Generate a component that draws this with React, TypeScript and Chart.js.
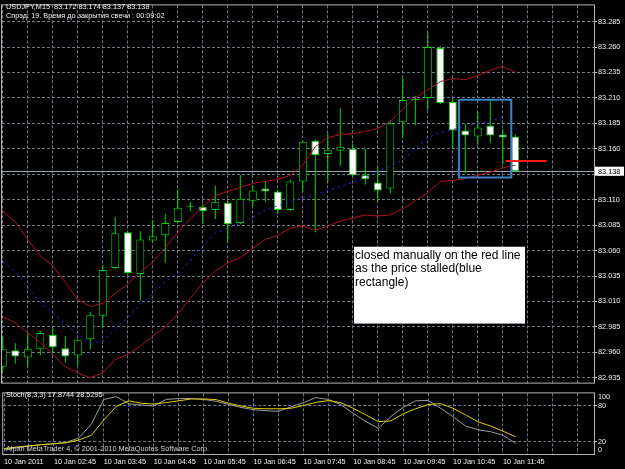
import React, { useEffect, useRef } from "react";
import { Chart, registerables } from "chart.js";

Chart.register(...registerables);

// ---------------- data ----------------
const SYMBOL = "USDJPY,M15";
const INFO_LINE = "Спрэд: 19. Время до закрытия свечи : 00:09:02";
const STOCH_NAME = "Stoch(8,3,3)";
const COPYRIGHT = "Alpari MetaTrader 4, © 2001-2010 MetaQuotes Software Corp.";
const NOTE_LINES = ["closed manually on the red line", "as the price stalled(blue", "rectangle)"];

const timeLabels = [
  "10 Jan 2011", "10 Jan 02:45", "10 Jan 03:45", "10 Jan 04:45", "10 Jan 05:45", "10 Jan 06:45",
  "10 Jan 07:45", "10 Jan 08:45", "10 Jan 09:45", "10 Jan 10:45", "10 Jan 11:45",
];
const TIME_LABEL_EVERY = 4; // bars between time labels
const GRID_EVERY = 2; // bars between vertical grid lines
const VIEW_BARS = [-0.064, 47.296]; // visible bar range (chart shift on the right)

const opens = [
  82.946, 82.962, 82.955, 82.963, 82.977, 82.964, 82.957, 82.973, 82.996, 83.043,
  83.078, 83.037, 83.070, 83.075, 83.088, 83.103, 83.103, 83.100, 83.107, 83.087,
  83.109, 83.121, 83.118, 83.100, 83.128, 83.168, 83.155, 83.158, 83.160, 83.134,
  83.127, 83.121, 83.186, 83.208, 83.210, 83.259, 83.206, 83.178, 83.172, 83.183,
  83.174, 83.172,
];
const highs = [
  82.976, 82.969, 82.979, 82.981, 82.984, 82.976, 82.973, 83.000, 83.046, 83.093,
  83.079, 83.079, 83.090, 83.096, 83.120, 83.108, 83.106, 83.124, 83.109, 83.134,
  83.124, 83.128, 83.120, 83.130, 83.168, 83.169, 83.175, 83.200, 83.165, 83.160,
  83.142, 83.188, 83.230, 83.212, 83.274, 83.261, 83.210, 83.184, 83.196, 83.208,
  83.179, 83.174,
];
const lows = [
  82.942, 82.949, 82.946, 82.957, 82.959, 82.950, 82.947, 82.963, 82.985, 83.042,
  83.036, 83.011, 83.069, 83.048, 83.087, 83.099, 83.086, 83.091, 83.069, 83.086,
  83.104, 83.108, 83.096, 83.099, 83.118, 83.078, 83.127, 83.143, 83.133, 83.125,
  83.108, 83.116, 83.171, 83.183, 83.198, 83.204, 83.160, 83.136, 83.164, 83.166,
  83.145, 83.137,
];
const closes = [
  82.963, 82.956, 82.963, 82.979, 82.965, 82.956, 82.972, 82.997, 83.041, 83.077,
  83.038, 83.071, 83.074, 83.087, 83.102, 83.104, 83.099, 83.108, 83.086, 83.111,
  83.119, 83.118, 83.100, 83.128, 83.167, 83.154, 83.159, 83.162, 83.134, 83.130,
  83.119, 83.185, 83.208, 83.209, 83.260, 83.205, 83.178, 83.173, 83.181, 83.173,
  83.171, 83.138,
];

const bbUpper = [
  83.099, 83.088, 83.071, 83.055, 83.045, 83.029, 83.012, 83.005, 83.008, 83.018,
  83.027, 83.039, 83.049, 83.063, 83.078, 83.091, 83.103, 83.114, 83.118, 83.122,
  83.126, 83.128, 83.130, 83.134, 83.144, 83.162, 83.171, 83.174, 83.175, 83.177,
  83.180, 83.187, 83.199, 83.210, 83.218, 83.226, 83.229, 83.228, 83.232, 83.237,
  83.241, 83.235,
];
const bbMiddle = [
  83.049, 83.039, 83.024, 83.009, 82.999, 82.988, 82.978, 82.969, 82.971, 82.983,
  82.995, 83.007, 83.018, 83.029, 83.038, 83.050, 83.065, 83.077, 83.082, 83.087,
  83.093, 83.100, 83.104, 83.108, 83.112, 83.115, 83.119, 83.123, 83.127, 83.131,
  83.138, 83.143, 83.149, 83.160, 83.171, 83.176, 83.179, 83.182, 83.185, 83.187,
  83.191, null,
];
const bbLower = [
  82.995, 82.989, 82.979, 82.970, 82.958, 82.946, 82.940, 82.935, 82.940, 82.953,
  82.958, 82.966, 82.976, 82.985, 82.998, 83.013, 83.028, 83.040, 83.048, 83.053,
  83.062, 83.071, 83.075, 83.082, 83.084, 83.080, 83.084, 83.089, 83.092, 83.095,
  83.094, 83.095, 83.101, 83.109, 83.117, 83.128, 83.129, 83.131, 83.134, 83.137,
  83.141, 83.144,
];

const stochMain = [
  7.7, 10.3, 13.1, 15.4, 16.9, 19.2, 26.6, 49.2, 90.0, 94.6,
  83.0, 80.8, 79.2, 90.0, 91.5, 91.5, 90.0, 87.0, 81.7, 76.9,
  73.0, 71.5, 70.3, 77.7, 84.6, 93.0, 90.0, 81.5, 66.9, 53.8,
  42.3, 61.5, 76.9, 87.7, 88.5, 75.4, 61.5, 46.2, 40.0, 36.9,
  30.8, 17.8744,
];
const stochSignal = [
  8.8, 11.5, 13.4, 15.4, 16.9, 18.5, 23.1, 30.8, 56.0, 78.5,
  87.7, 83.8, 82.3, 84.9, 87.7, 90.8, 90.8, 89.7, 83.8, 79.2,
  75.4, 74.6, 74.6, 75.4, 80.0, 85.0, 88.2, 84.6, 75.4, 64.6,
  53.4, 54.6, 66.2, 74.6, 81.5, 83.1, 75.4, 64.6, 53.1, 46.2,
  37.7, 28.5295,
];

const priceTicks = [
  82.935, 82.96, 82.985, 83.01, 83.035, 83.06, 83.085, 83.11, 83.135, 83.16,
  83.185, 83.21, 83.235, 83.26, 83.285,
];
const priceRange = [82.9303, 83.3009];
const stochLevels = [20, 80];
const stochRange = [0, 100];

// drawn objects (in bar / price units)
const exitLine = { from: 40.23, to: 43.51, price: 83.148 };
const stallBox = { from: 36.5, to: 40.68, top: 83.2083, bottom: 83.1319 };
const noteBox = { from: 28.1, to: 41.78, top: 83.0638, bottom: 82.9883 };

// ---------------- styles ----------------
const FONT = '"Liberation Sans", Arial, sans-serif';
const SMALL = 7.3;
const LIME = "#00dc00";
const GRID = "#6d7a88";
const FRAME = "#b4b4b4";
const TEXT = "#f0f0f0";
const BAND = "#b01020";
const MID = "#2a2aff";

const idx = opens.map((_, i) => i);
const gridBars: number[] = [];
for (let b = 0; b <= VIEW_BARS[1]; b += GRID_EVERY) gridBars.push(b);

function mainConfig(): any {
  const wick = idx.map((i) => ({ x: i, y: [lows[i], highs[i]] }));
  const bull = idx.filter((i) => closes[i] >= opens[i]).map((i) => ({ x: i, y: [opens[i], closes[i]] }));
  const bear = idx.filter((i) => closes[i] < opens[i]).map((i) => ({ x: i, y: [closes[i], opens[i]] }));
  const line = (arr: (number | null)[]) =>
    arr.map((v, i) => (v == null ? null : { x: i, y: v })).filter((p) => p) as any[];
  const lineBase = { type: "line", pointRadius: 0, borderWidth: 1, tension: 0, fill: false };
  const bid = closes[closes.length - 1];
  const last = closes.length - 1;

  const plugin = {
    id: "mt4main",
    beforeDatasetsDraw(chart: any) {
      const { ctx, chartArea: a, scales } = chart;
      const by = Math.round(scales.y.getPixelForValue(bid)) + 0.5;
      ctx.save();
      ctx.strokeStyle = "#9aa4b0";
      ctx.lineWidth = 1;
      ctx.beginPath();
      ctx.moveTo(a.left, by);
      ctx.lineTo(a.right, by);
      ctx.stroke();
      ctx.restore();
    },
    afterDatasetsDraw(chart: any) {
      const { ctx, scales } = chart;
      const l = scales.x.getPixelForValue(noteBox.from);
      const r = scales.x.getPixelForValue(noteBox.to);
      const t = scales.y.getPixelForValue(noteBox.top);
      const b = scales.y.getPixelForValue(noteBox.bottom);
      ctx.save();
      ctx.fillStyle = "#ffffff";
      ctx.fillRect(l, t, r - l, b - t);
      ctx.fillStyle = "#000000";
      ctx.font = `12px ${FONT}`;
      ctx.textBaseline = "middle";
      ctx.textAlign = "left";
      NOTE_LINES.forEach((s, i) => ctx.fillText(s, l + 1, t + 8.5 + i * 13.8));
      ctx.restore();
    },
    afterDraw(chart: any) {
      const { ctx, chartArea: a, scales } = chart;
      ctx.save();
      ctx.strokeStyle = FRAME;
      ctx.lineWidth = 1;
      ctx.strokeRect(a.left - 0.5, a.top - 0.5, a.right - a.left + 1, a.bottom - a.top + 1);
      const by = scales.y.getPixelForValue(bid);
      ctx.fillStyle = "#ffffff";
      ctx.fillRect(a.right + 1, by - 4.5, 29, 9);
      ctx.fillStyle = "#000000";
      ctx.font = `${SMALL}px ${FONT}`;
      ctx.textBaseline = "middle";
      ctx.textAlign = "left";
      ctx.fillText(bid.toFixed(3), a.right + 4, by + 0.5);
      ctx.fillStyle = TEXT;
      const head = `${SYMBOL}  ${opens[last].toFixed(3)} ${highs[last].toFixed(3)} ${lows[last].toFixed(3)} ${closes[last].toFixed(3)}`;
      ctx.fillText(head, 6, 7);
      ctx.fillText(INFO_LINE, 6, 16);
      ctx.restore();
    },
  };

  return {
    type: "bar",
    data: {
      datasets: [
        { data: wick, backgroundColor: LIME, borderWidth: 0, barThickness: 1, grouped: false, inflateAmount: 0, order: 6 },
        { data: bull, backgroundColor: "#000000", borderColor: LIME, borderWidth: 1, borderSkipped: false, barThickness: 8, grouped: false, inflateAmount: 0, order: 5 },
        { data: bear, backgroundColor: "#ffffff", borderColor: LIME, borderWidth: 1, borderSkipped: false, barThickness: 8, grouped: false, inflateAmount: 0, order: 5 },
        { ...lineBase, data: line(bbUpper), borderColor: BAND, order: 3 },
        { ...lineBase, data: line(bbLower), borderColor: BAND, order: 3 },
        { ...lineBase, data: line(bbMiddle), borderColor: MID, borderDash: [2, 4], order: 3 },
        { ...lineBase, data: [{ x: exitLine.from, y: exitLine.price }, { x: exitLine.to, y: exitLine.price }], borderColor: "#ff1a1a", borderWidth: 2, order: 1 },
        {
          ...lineBase,
          data: [
            { x: stallBox.from, y: stallBox.top }, { x: stallBox.to, y: stallBox.top },
            { x: stallBox.to, y: stallBox.bottom }, { x: stallBox.from, y: stallBox.bottom },
            { x: stallBox.from, y: stallBox.top },
          ],
          borderColor: "#3c82c8", borderWidth: 2, order: 1,
        },
      ],
    },
    options: {
      animation: false,
      responsive: false,
      devicePixelRatio: 1,
      events: [],
      layout: { padding: { left: 2, top: 2, right: 0, bottom: 3 } },
      plugins: { legend: { display: false }, tooltip: { enabled: false } },
      scales: {
        x: {
          type: "linear", min: VIEW_BARS[0], max: VIEW_BARS[1], offset: false, bounds: "data",
          afterBuildTicks: (s: any) => { s.ticks = gridBars.map((v) => ({ value: v })); },
          afterFit: (s: any) => { s.height = 0; },
          ticks: { display: false },
          grid: { color: GRID, drawTicks: false, offset: false, lineWidth: 1 },
          border: { display: false, dash: [3, 2] },
        },
        y: {
          type: "linear", position: "right", min: priceRange[0], max: priceRange[1], bounds: "data",
          afterBuildTicks: (s: any) => { s.ticks = priceTicks.map((v) => ({ value: v })); },
          afterFit: (s: any) => { s.width = 31; },
          ticks: { color: TEXT, font: { family: FONT, size: SMALL }, padding: 1, callback: (v: any) => Number(v).toFixed(3) },
          grid: { color: GRID, drawTicks: true, tickLength: 3, tickColor: "#c8c8c8", tickBorderDash: [] },
          border: { display: false, dash: [3, 2] },
        },
      },
    },
    plugins: [plugin],
  };
}

function stochConfig(): any {
  const pts = (arr: number[]) => arr.map((v, i) => ({ x: i, y: v }));
  const lineBase = { type: "line", pointRadius: 0, borderWidth: 1, tension: 0, fill: false };
  const plugin = {
    id: "mt4stoch",
    afterDraw(chart: any) {
      const { ctx, chartArea: a, scales } = chart;
      ctx.save();
      ctx.strokeStyle = FRAME;
      ctx.lineWidth = 1;
      ctx.strokeRect(a.left - 0.5, a.top - 0.5, a.right - a.left + 1, a.bottom - a.top + 1);
      ctx.font = `${SMALL}px ${FONT}`;
      ctx.textBaseline = "middle";
      ctx.textAlign = "left";
      ctx.fillStyle = TEXT;
      ctx.fillText(String(stochRange[1]), a.right + 4, scales.y.getPixelForValue(stochRange[1]) + 4);
      ctx.fillText(String(stochRange[0]), a.right + 4, scales.y.getPixelForValue(stochRange[0]) - 4);
      const k = stochMain[stochMain.length - 1];
      const d = stochSignal[stochSignal.length - 1];
      ctx.fillText(`${STOCH_NAME} ${k.toFixed(4)} ${d.toFixed(4)}`, 6, 7);
      ctx.fillStyle = "#d0d0d0";
      ctx.fillText(COPYRIGHT, 6, 61);
      ctx.restore();
    },
  };
  return {
    type: "line",
    data: {
      datasets: [
        { ...lineBase, data: pts(stochMain), borderColor: "#9c9c9c", order: 2 },
        { ...lineBase, data: pts(stochSignal), borderColor: "#e0d000", order: 1 },
      ],
    },
    options: {
      animation: false,
      responsive: false,
      devicePixelRatio: 1,
      events: [],
      layout: { padding: { left: 2, top: 1, right: 0, bottom: 0 } },
      plugins: { legend: { display: false }, tooltip: { enabled: false } },
      scales: {
        x: {
          type: "linear", min: VIEW_BARS[0], max: VIEW_BARS[1], offset: false, bounds: "data",
          afterBuildTicks: (s: any) => { s.ticks = gridBars.map((v) => ({ value: v })); },
          afterFit: (s: any) => { s.height = 15; },
          ticks: {
            color: TEXT, font: { family: FONT, size: SMALL }, padding: 4, align: "start",
            autoSkip: false, maxRotation: 0, minRotation: 0,
            callback: (v: any) => {
              const n = Math.round(Number(v));
              return n % TIME_LABEL_EVERY === 0 && n / TIME_LABEL_EVERY < timeLabels.length ? timeLabels[n / TIME_LABEL_EVERY] : "";
            },
          },
          grid: { color: GRID, drawTicks: false, offset: false },
          border: { display: false, dash: [3, 2] },
        },
        y: {
          type: "linear", position: "right", min: stochRange[0], max: stochRange[1], bounds: "data",
          afterBuildTicks: (s: any) => { s.ticks = stochLevels.map((v) => ({ value: v })); },
          afterFit: (s: any) => { s.width = 31; },
          ticks: { color: TEXT, font: { family: FONT, size: SMALL }, padding: 1 },
          grid: { color: GRID, drawTicks: true, tickLength: 3, tickColor: "#c8c8c8", tickBorderDash: [] },
          border: { display: false, dash: [3, 2] },
        },
      },
    },
    plugins: [plugin],
  };
}

export default function App() {
  const mainRef = useRef<HTMLCanvasElement>(null);
  const stochRef = useRef<HTMLCanvasElement>(null);
  useEffect(() => {
    document.body.style.margin = "0";
    document.body.style.background = "#000";
    const main = new Chart(mainRef.current as HTMLCanvasElement, mainConfig());
    const st = new Chart(stochRef.current as HTMLCanvasElement, stochConfig());
    return () => {
      main.destroy();
      st.destroy();
    };
  }, []);
  return (
    <div style={{ position: "fixed", left: 0, top: 0, width: 625, height: 469, background: "#000" }}>
      <canvas ref={mainRef} width={625} height={388} style={{ display: "block", width: 625, height: 388 }} />
      <canvas ref={stochRef} width={625} height={81} style={{ display: "block", width: 625, height: 81 }} />
    </div>
  );
}
